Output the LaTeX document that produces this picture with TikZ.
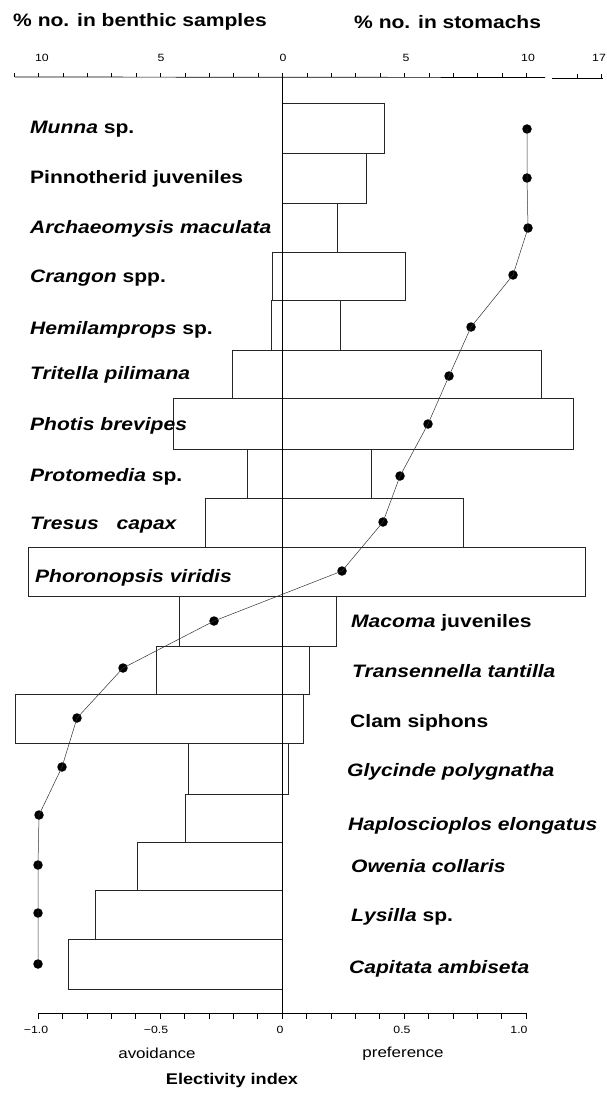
\documentclass[tikz,border=0pt]{standalone}
\usepackage{fontspec}
\setmainfont{Liberation Sans}[FakeStretch=1.17]
\newfontface\lbi{Liberation Sans Bold Italic}[FakeStretch=1.17]
\newfontface\lb{Liberation Sans Bold}[FakeStretch=1.17]
\begin{document}
\begin{tikzpicture}[x=1pt,y=-1pt,
  bar/.style={draw=black!85,line width=0.6pt},
  axisline/.style={line width=0.7pt},
  tickmark/.style={line width=0.45pt},
  dot/.style={circle,fill=black,inner sep=0pt,minimum size=9.5pt},
  curve/.style={line width=0.5pt,black!80},
  lab/.style={anchor=base west,inner sep=0pt,font=\fontsize{18}{20}\selectfont\lb},
  num/.style={inner sep=0pt,font=\fontsize{10.5}{12}\selectfont},
  ttl/.style={anchor=west,inner sep=0pt,font=\fontsize{18}{20}\selectfont\lb},
  sub/.style={inner sep=0pt,font=\fontsize{14.5}{16}\selectfont},
]
\useasboundingbox (0,0) rectangle (607,1094);
\fill[white] (0,0) rectangle (607,1094);

% titles
\node[ttl] (t1) at (13,22) {\% no. in benthic samples};
\node[ttl] (t2) at (354,22) {\% no. in stomachs};

% top axis
\draw[axisline] (15,77) -- (545,77.5);
\draw[axisline] (552,78) -- (603,78);
\foreach \k in {-11,...,10} \draw[tickmark] ({282.5+24.4*(\k)},77) -- ++(0,-4);
\draw[tickmark] (577,78) -- ++(0,-4);
\draw[tickmark] (601,78) -- ++(0,-4);
\node[num] (a1) at (42,58) {10};
\node[num] (a2) at (161,58) {5};
\node[num] (a3) at (283,58) {0};
\node[num] (a4) at (406,58) {5};
\node[num] (a5) at (528,58) {10};
\node[num] (a6) at (599,58) {17};

% bars
\foreach \t/\b/\l/\r in {103/153/282/384, 153/203/282/366, 203/252/282/337,
  252/300.5/272/405, 300.5/350.5/271/340, 350.5/398.5/232/541,
  398.5/449/173/573, 449/498/247/371, 498/547/205/463, 547/596/28/585,
  596/646/179/336, 646/694/156/309, 694/743/15/303, 743/794/188/288,
  794/842/185/282, 842/890/137/282, 890/939/95/282, 939/989/68/282}
  \draw[bar] (\l,\t) rectangle (\r,\b);

% centre line
\draw[line width=0.6pt] (282,77) -- (282,1013);

% bottom axis
\draw[axisline] (38,1013) -- (526,1013);
\foreach \k in {-10,...,10} \draw[tickmark] ({282+24.4*(\k)},1013) -- ++(0,6);
\node[num] (b1) at (36,1030) {−1.0};
\node[num] (b2) at (156,1030) {−0.5};
\node[num] (b3) at (280,1030) {0};
\node[num] (b4) at (402,1030) {0.5};
\node[num] (b5) at (519,1030) {1.0};
\node[sub] (av) at (157,1053) {avoidance};
\node[sub] (pr) at (403,1054) {preference};
\node[inner sep=0pt,font=\fontsize{15.5}{17}\selectfont\lb] (ei) at (232,1080) {Electivity index};

% electivity points
\foreach \i/\x/\y in {1/527/129, 2/527/178, 3/528/228, 4/513/275, 5/471/327,
  6/449/376, 7/428/424, 8/400/476, 9/383/522, 10/342/571, 11/214/621,
  12/123/668, 13/77/718, 14/62/767, 15/39/815, 16/38/865, 17/38/913, 18/38/964}
  \node[dot] (p\i) at (\x,\y) {};
\draw[curve] (p1.center) -- (p2.center) -- (p3.center) -- (p4.center)
  -- (p5.center) -- (p6.center) -- (p7.center) -- (p8.center) -- (p9.center)
  -- (p10.center) -- (p11.center) -- (p12.center) -- (p13.center)
  -- (p14.center) -- (p15.center) -- (p16.center) -- (p17.center) -- (p18.center);

% labels
\node[lab] (l1) at (30,134) {{\lbi Munna} sp.};
\node[lab] (l2) at (30,184) {Pinnotherid juveniles};
\node[lab] (l3) at (30,233.5) {\lbi Archaeomysis maculata};
\node[lab] (l4) at (30,282) {{\lbi Crangon} spp.};
\node[lab] (l5) at (30,334) {{\lbi Hemilamprops} sp.};
\node[lab] (l6) at (30,379) {\lbi Tritella pilimana};
\node[lab] (l7) at (30,430) {\lbi Photis brevipes};
\node[lab] (l8) at (30,481) {{\lbi Protomedia} sp.};
\node[lab] (l9) at (30,529) {\lbi Tresus\hspace{12pt} capax};
\node[lab] (l10) at (35,582) {\lbi Phoronopsis viridis};
\node[lab] (l11) at (351,627) {{\lbi Macoma} juveniles};
\node[lab] (l12) at (352,677) {\lbi Transennella tantilla};
\node[lab] (l13) at (350,727) {Clam siphons};
\node[lab] (l14) at (347,776) {\lbi Glycinde polygnatha};
\node[lab] (l15) at (348,830) {\lbi Haploscioplos elongatus};
\node[lab] (l16) at (351,872) {\lbi Owenia collaris};
\node[lab] (l17) at (351,921) {{\lbi Lysilla} sp.};
\node[lab] (l18) at (349,973) {\lbi Capitata ambiseta};
\end{tikzpicture}
\end{document}
